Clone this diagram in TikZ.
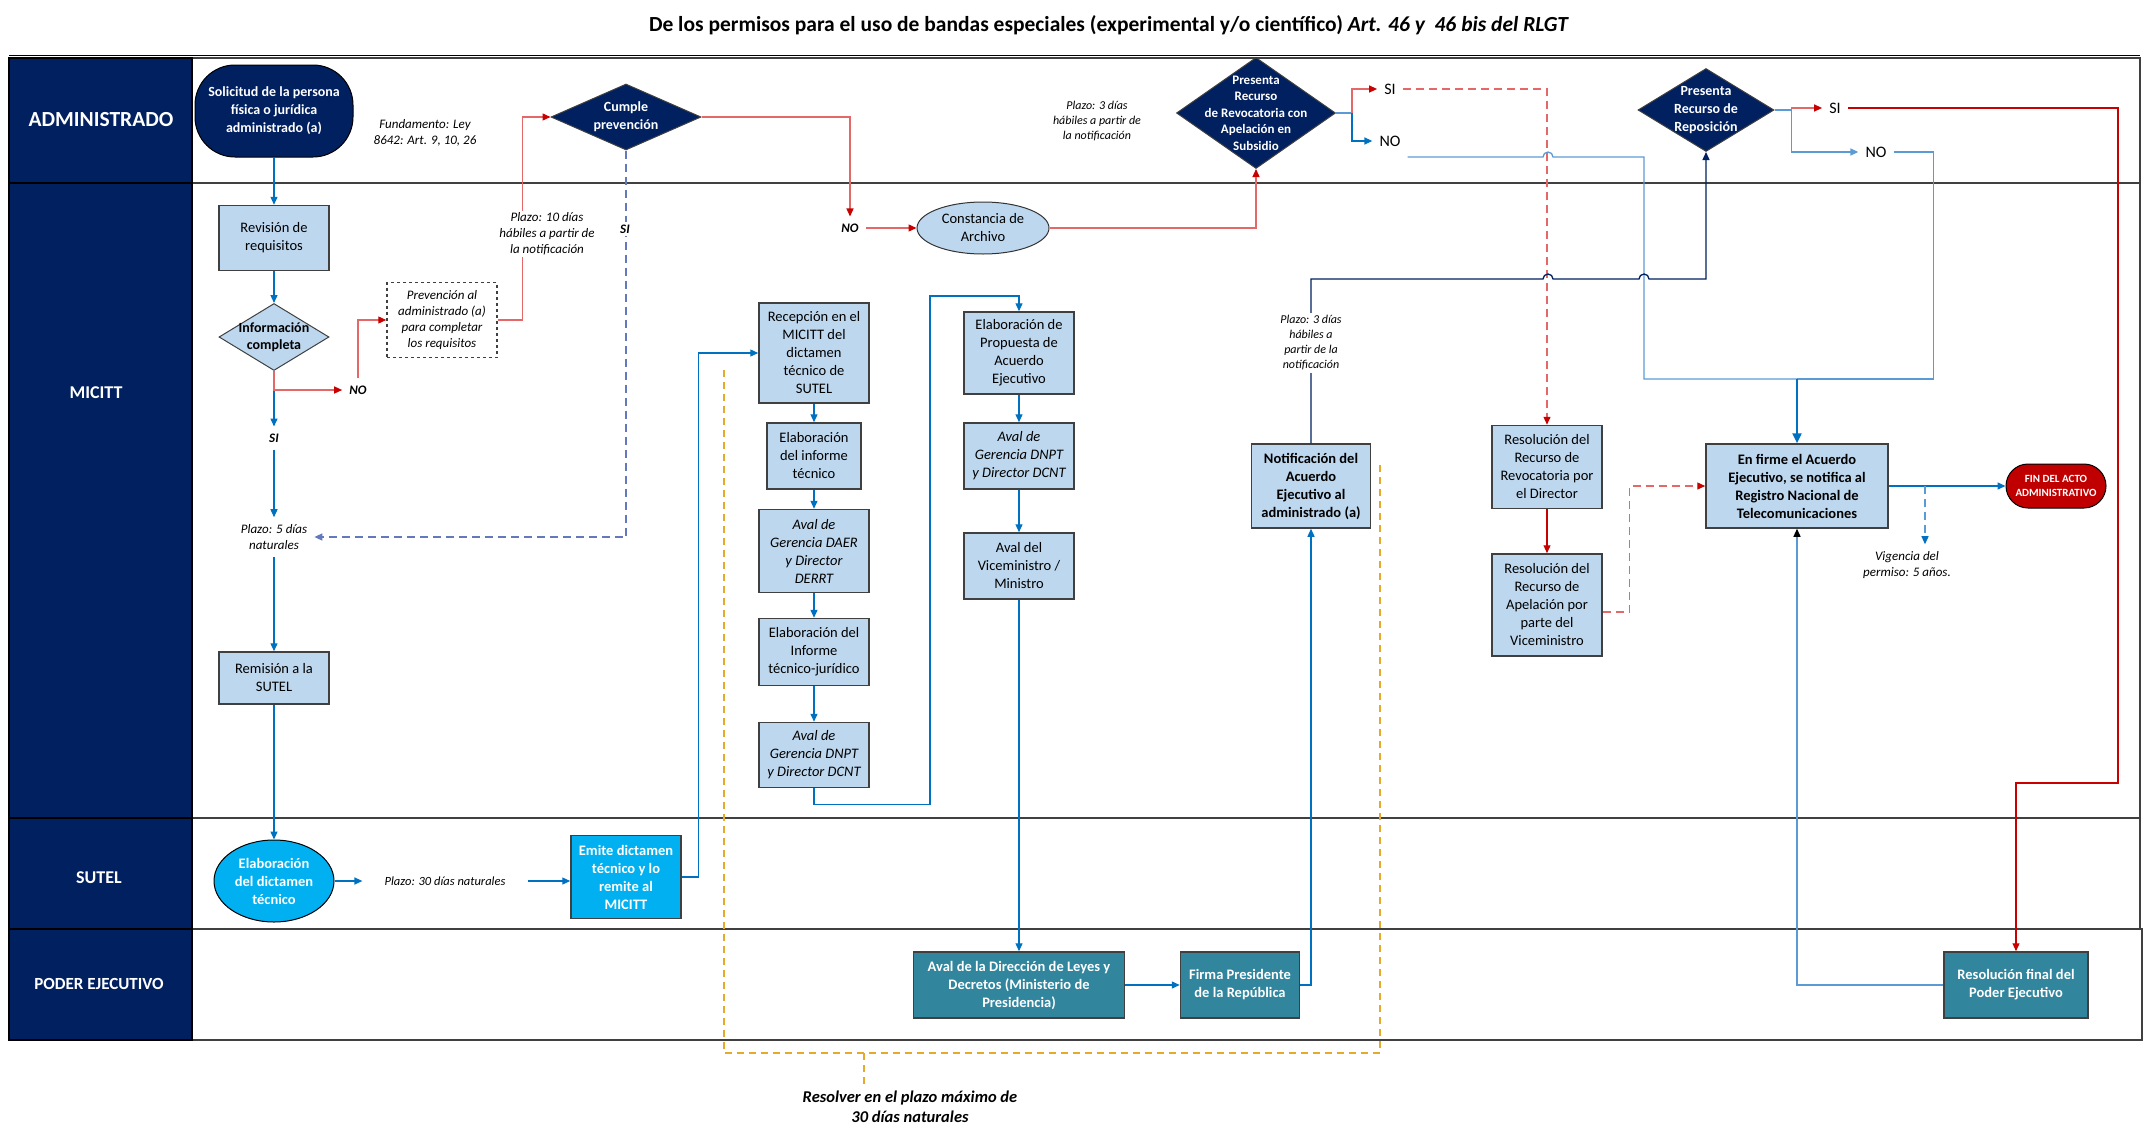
\documentclass[tikz,border=0pt]{standalone}
\usepackage{fontspec}
\setmainfont{Carlito}
\usetikzlibrary{shapes.geometric, arrows.meta}

\definecolor{navy}{RGB}{0,32,96}
\definecolor{boxfill}{RGB}{189,215,238}
\definecolor{cyanfill}{RGB}{0,176,240}
\definecolor{tealfill}{RGB}{49,133,156}
\definecolor{finred}{RGB}{192,0,0}
\definecolor{flowblue}{RGB}{0,112,192}
\definecolor{softblue}{RGB}{91,155,213}
\definecolor{flowred}{RGB}{228,104,104}
\definecolor{tipred}{RGB}{200,0,0}
\definecolor{lavender}{RGB}{100,120,190}
\definecolor{bracketgold}{RGB}{230,170,40}
\definecolor{boxline}{RGB}{64,64,64}

\tikzset{
	lanehead/.style={draw=black, line width=1.5pt, fill=navy},
	lanebody/.style={draw=black!75, line width=1.5pt},
	lanename/.style={text=white, font=\bfseries\fontsize{18}{21}\selectfont},
	procbox/.style={rectangle, draw=boxline, line width=1.5pt, fill=boxfill, align=center,
		inner sep=0pt, minimum width=110, font=\fontsize{14.5}{18}\selectfont},
	cyanbox/.style={procbox, fill=cyanfill, text=white, font=\bfseries\fontsize{14.5}{18}\selectfont},
	tealbox/.style={procbox, fill=tealfill, text=white, font=\bfseries\fontsize{14.5}{18}\selectfont},
	decision/.style={diamond, draw=boxline, line width=1pt, fill=navy, inner sep=0pt},
	dtext/.style={text=white, align=center, font=\bfseries\fontsize{13}{16.5}\selectfont},
	terminal/.style={rectangle, draw=black, line width=1pt, align=center, inner sep=0pt},
	note/.style={align=center, inner sep=7pt, font=\itshape\fontsize{13}{16}\selectfont},
	smallnote/.style={note, font=\itshape\fontsize{12}{15}\selectfont},
	yesno/.style={inner sep=7pt, font=\bfseries\itshape\fontsize{13}{16}\selectfont},
	answer/.style={inner sep=7pt, font=\fontsize{16}{19}\selectfont},
	tip/.style={-{Triangle[length=8pt, width=7pt]}},
	flow/.style={draw=flowblue, line width=1.3pt, tip},
	softline/.style={draw=softblue, line width=1.3pt},
	softflow/.style={softline, tip},
	thickflow/.style={draw=flowblue, line width=2.2pt, -{Triangle[length=10pt, width=9pt]}},
	redflow/.style={draw=flowred, line width=1.3pt, -{Triangle[length=8pt, width=7pt, color=tipred]}},
	darkredflow/.style={draw=tipred, line width=1.1pt, tip},
	reddash/.style={redflow, dash pattern=on 8pt off 5pt},
	siline/.style={draw=lavender, line width=1.5pt, dash pattern=on 8pt off 5pt, tip},
	bluedash/.style={draw=softblue, line width=1.3pt, dash pattern=on 8pt off 5pt, -{Triangle[length=8pt, width=7pt, color=flowblue]}},
	navyflow/.style={draw=navy, line width=1.3pt, tip},
	golddash/.style={draw=bracketgold, line width=1.3pt, dash pattern=on 7pt off 5pt}
}

\begin{document}
\begin{tikzpicture}[x=1pt, y=-1pt]
	\useasboundingbox (0, 0) rectangle (2150, 1143);

	\node [font=\bfseries\fontsize{21.5}{25}\selectfont] (title) at (1109, 25) {De los permisos para el uso de bandas especiales (experimental y/o científico) \textit{Art. 46 y~ 46 bis del RLGT}};

	% carriles
	\draw [lanebody] (192, 58) rectangle (2140, 183);
	\draw [lanebody] (192, 183) rectangle (2140, 818);
	\draw [lanebody] (192, 818) rectangle (2140, 929);
	\draw [lanebody] (192, 929) rectangle (2142, 1040);
	\draw [line width=1pt] (9, 55) -- (2140, 55);
	\draw [lanehead] (9, 58) rectangle (192, 183);
	\draw [lanehead] (9, 183) rectangle (192, 818);
	\draw [lanehead] (9, 818) rectangle (192, 929);
	\draw [lanehead] (9, 929) rectangle (192, 1040);
	\node [lanename, font=\bfseries\fontsize{21.5}{25}\selectfont] (ladm) at (101, 120) {ADMINISTRADO};
	\node [lanename] (lmicitt) at (96, 393) {MICITT};
	\node [lanename] (lsutel) at (99, 878) {SUTEL};
	\node [lanename, font=\bfseries\fontsize{17}{20}\selectfont] (lpoder) at (99, 984) {PODER EJECUTIVO};

	% administrado
	\node [terminal, fill=navy, text=white, minimum width=158, minimum height=92, rounded corners=40,
		font=\bfseries\fontsize{14}{18}\selectfont] (solic) at (274, 111) {Solicitud de la persona\\física o jurídica\\administrado (a)};
	\node [note] (fund) at (425, 133) {Fundamento: Ley\\8642: Art. 9, 10, 26};
	\node [decision, minimum width=150, minimum height=66,
		label={[dtext, font=\bfseries\fontsize{14}{18}\selectfont]center:Cumple\\prevención}] (cumple) at (626, 117) {};
	\node [smallnote] (p3a) at (1097, 121) {Plazo: 3 días\\hábiles a partir de\\la notificación};
	\node [decision, minimum width=159, minimum height=111,
		label={[dtext]center:Presenta\\Recurso\\de Revocatoria con\\Apelación en\\Subsidio}] (revoc) at (1256, 113) {};
	\node [answer] (sirevoc) at (1390, 89) {SI};
	\node [answer] (norevoc) at (1390, 141) {NO};
	\node [decision, minimum width=136, minimum height=83,
		label={[dtext, font=\bfseries\fontsize{14}{18}\selectfont]center:Presenta\\Recurso de\\Reposición}] (repos) at (1706, 110) {};
	\node [answer] (sirepos) at (1835, 108) {SI};
	\node [answer] (norepos) at (1876, 152) {NO};

	% micitt
	\node [procbox, minimum height=65] (revis) at (274, 238) {Revisión de\\requisitos};
	\node [decision, fill=boxfill, minimum width=110, minimum height=67,
		label={[dtext, text=black, font=\bfseries\fontsize{14}{17}\selectfont]center:Información\\completa}] (info) at (274, 337) {};
	\node [procbox, fill=white, dashed, minimum height=75, font=\itshape\fontsize{13}{16}\selectfont] (prev) at (442, 320) {Prevención al\\administrado (a)\\para completar\\los requisitos};
	\node [yesno] (noinfo) at (358, 390) {NO};
	\node [yesno] (siinfo) at (274, 438) {SI};
	\node [note] (p5) at (274, 537) {Plazo: 5 días\\naturales};
	\node [procbox, minimum height=52] (remis) at (274, 678) {Remisión a la\\SUTEL};
	\node [yesno] (nocumple) at (850, 228) {NO};
	\node [ellipse, draw=black!80, line width=1pt, fill=boxfill, minimum width=132, minimum height=52, inner sep=0pt,
		align=center, font=\fontsize{14.5}{18}\selectfont] (archivo) at (983, 228) {Constancia de\\Archivo};

	\node [procbox, minimum height=100] (recep) at (814, 353) {Recepción en el\\MICITT del\\dictamen\\técnico de\\SUTEL};
	\node [procbox, minimum width=94, minimum height=66] (infotec) at (814, 456) {Elaboración\\del informe\\técnico};
	\node [procbox, minimum height=83, font=\itshape\fontsize{14.5}{18}\selectfont] (daer) at (814, 551) {Aval de\\Gerencia DAER\\y Director\\DERRT};
	\node [procbox, minimum height=67] (tecjur) at (814, 652) {Elaboración del\\Informe\\técnico-jurídico};
	\node [procbox, minimum height=65, font=\itshape\fontsize{14.5}{18}\selectfont] (dnpta) at (814, 755) {Aval de\\Gerencia DNPT\\y Director DCNT};

	\node [procbox, minimum height=82] (propu) at (1019, 353) {Elaboración de\\Propuesta de\\Acuerdo\\Ejecutivo};
	\node [procbox, minimum height=66, font=\itshape\fontsize{14.5}{18}\selectfont] (dnptb) at (1019, 456) {Aval de\\Gerencia DNPT\\y Director DCNT};
	\node [procbox, minimum height=66] (vicemin) at (1019, 566) {Aval del\\Viceministro /\\Ministro};

	\node [procbox, minimum width=119, minimum height=84, font=\bfseries\fontsize{14.5}{18}\selectfont] (notif) at (1311, 486) {Notificación del\\Acuerdo\\Ejecutivo al\\administrado (a)};
	\node [procbox, minimum height=83] (resrev) at (1547, 467) {Resolución del\\Recurso de\\Revocatoria por\\el Director};
	\node [procbox, minimum height=102] (resape) at (1547, 605) {Resolución del\\Recurso de\\Apelación por\\parte del\\Viceministro};
	\node [procbox, minimum width=182, minimum height=84, font=\bfseries\fontsize{14.5}{18}\selectfont] (firme) at (1797, 486) {En firme el Acuerdo\\Ejecutivo, se notifica al\\Registro Nacional de\\Telecomunicaciones};
	\node [terminal, fill=finred, text=white, minimum width=100, minimum height=44, rounded corners=22,
		font=\bfseries\fontsize{11}{14}\selectfont] (fin) at (2056, 486) {FIN DEL ACTO\\ADMINISTRATIVO};
	\node [note] (vigen) at (1907, 565) {Vigencia del\\permiso: 5 años.};

	% sutel
	\node [ellipse, draw=black, line width=1pt, fill=cyanfill, text=white, minimum width=120, minimum height=82, inner sep=0pt,
		align=center, font=\bfseries\fontsize{14.5}{18}\selectfont] (dictam) at (274, 881) {Elaboración\\del dictamen\\técnico};
	\node [smallnote, font=\itshape\fontsize{12.5}{15}\selectfont, inner xsep=22pt, inner ysep=2pt] (p30) at (445, 881) {Plazo: 30 días naturales};
	\node [cyanbox, minimum height=83] (emite) at (626, 877) {Emite dictamen\\técnico y lo\\remite al\\MICITT};

	% poder ejecutivo
	\node [tealbox, minimum width=211, minimum height=66] (leyes) at (1019, 985) {Aval de la Dirección de Leyes y\\Decretos (Ministerio de\\Presidencia)};
	\node [tealbox, minimum width=119, minimum height=66] (firma) at (1240, 985) {Firma Presidente\\de la República};
	\node [tealbox, minimum width=144, minimum height=66] (resfin) at (2016, 985) {Resolución final del\\Poder Ejecutivo};
	\node [note, font=\bfseries\itshape\fontsize{16.5}{20}\selectfont] (resolver) at (910, 1107) {Resolver en el plazo máximo de\\30 días naturales};

	% conectores
	\draw [flow] (solic) -- (revis);
	\draw [flow] (revis) -- (info);
	\draw [flow] (info) -- (siinfo);
	\draw [flow] (siinfo) -- (p5);
	\draw [flow] (p5) -- (remis);
	\draw [flow] (remis) -- (dictam);
	\draw [flow] (dictam.east) -- (p30.west);
	\draw [flow] (p30.east) -- (p30.east -| emite.west);
	\draw [flow] (emite.east) -- ++(17, 0) |- (recep.west);

	\draw [redflow] (info.south) |- (noinfo.west);
	\draw [redflow] (noinfo.north) |- (prev.west);
	\draw [redflow] (prev.east) -- ++(25, 0) |- (cumple.west);
	\node [note, fill=white, inner sep=2pt] (p10) at (547, 234) {Plazo: 10 días\\hábiles a partir de\\la notificación};
	\draw [siline] (cumple.south) |- (p5.east);
	\node [yesno, fill=white, inner sep=3pt] (sicumple) at (625, 229) {SI};
	\draw [redflow] (cumple.east) -| (nocumple.north);
	\draw [redflow] (nocumple.east) -- (archivo.west);
	\draw [redflow] (archivo.east) -| (revoc.south);

	\draw [flow] (recep) -- (infotec);
	\draw [flow] (infotec) -- (daer);
	\draw [flow] (daer) -- (tecjur);
	\draw [flow] (tecjur) -- (dnpta);
	\draw [flow] (dnpta.south) -- ++(0, 16) -| (930, 296) -| (propu.north);
	\draw [flow] (propu) -- (dnptb);
	\draw [flow] (dnptb) -- (vicemin);
	\draw [flow] (vicemin) -- (leyes);
	\draw [flow] (leyes) -- (firma);
	\draw [flow] (firma.east) -| (notif.south);

	\draw [softline] (revoc.east) -- ++(16, 0) coordinate (rvsplit);
	\draw [redflow] (rvsplit) |- (sirevoc.west);
	\draw [flow] (rvsplit) |- (norevoc.west);
	\draw [reddash] (sirevoc.east) -| (resrev.north);
	\coordinate (merge) at (1797, 379);
	\draw [softline] ([yshift=-16pt]norevoc.east) -- (1543, 157) arc [start angle=180, end angle=360, radius=5]
		-- (1644, 157) |- (merge);
	\draw [navyflow] (notif.north) -- (1311, 279) -- (1543, 279) arc [start angle=180, end angle=360, radius=5]
		-- (1639, 279) arc [start angle=180, end angle=360, radius=5] -- (1706, 279) -- (repos.south);
	\node [smallnote, fill=white, inner sep=3pt] (p3b) at (1311, 343) {Plazo: 3 días\\hábiles a\\partir de la\\notificación};

	\draw [softline] (repos.east) -- ++(17, 0) coordinate (rpsplit);
	\draw [redflow] (rpsplit) |- (sirepos.west);
	\draw [softflow] (rpsplit) |- (norepos.west);
	\draw [softline] (norepos.east) -- ++(40, 0) |- (merge);
	\draw [thickflow] (merge) -- (firme.north);
	\draw [darkredflow] (sirepos.east) -| (2118, 783) -| (resfin.north);

	\draw [darkredflow] (resrev) -- (resape);
	\draw [reddash] ([yshift=-7pt]resape.east) -- ++(27, 0) |- (firme.west);
	\draw [flow] (firme) -- (fin);
	\coordinate (vigtap) at (1925, 486);
	\draw [bluedash] (vigtap) -- (vigtap |- vigen.north);
	\draw [softline, -{Triangle[length=8pt, width=7pt, color=black]}] (resfin.west) -| (firme.south);

	\draw [golddash] (724, 370) -- (724, 1053) -- (1380, 1053) -- (1380, 463);
	\draw [golddash] (864, 1053) -- (864, 1053 |- resolver.north);
\end{tikzpicture}
\end{document}
